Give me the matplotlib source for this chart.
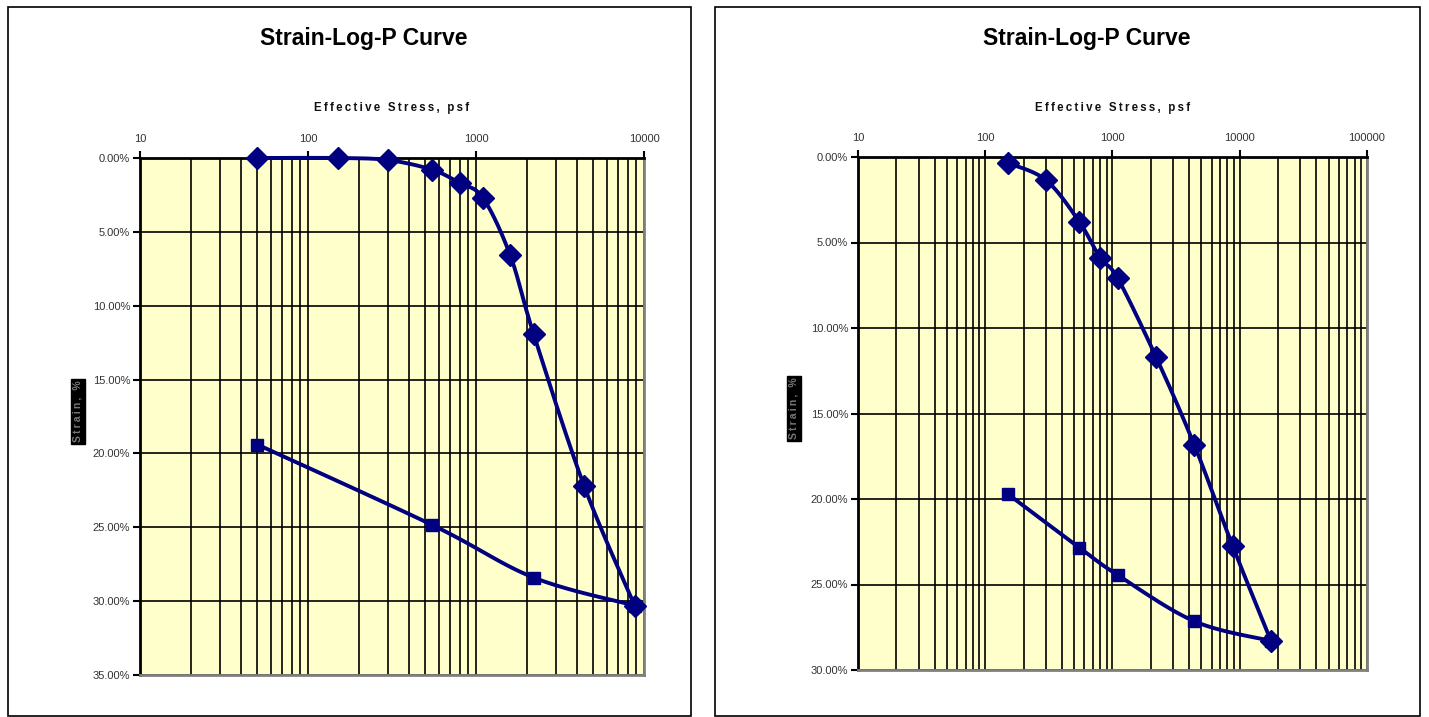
import numpy as np
import matplotlib
matplotlib.use('Agg')
import matplotlib.pyplot as plt
from matplotlib.ticker import FixedLocator, FuncFormatter, NullFormatter
from matplotlib.patches import Rectangle

plt.rcParams['font.family'] = ['Liberation Sans', 'DejaVu Sans']

title = "Strain-Log-P Curve"
xlabel = "Effective Stress, psf"
ylabel = "Strain, %"

# Left chart
left_load_p = [50, 150, 300, 550, 800, 1100, 1600, 2200, 4400, 8800]
left_load_strain = [0.0, 0.0, 0.14, 0.8, 1.7, 2.7, 6.6, 11.9, 22.2, 30.3]
left_unload_p = [8800, 2200, 550, 50]
left_unload_strain = [30.3, 28.4, 24.85, 19.4]
left_xticks = [10, 100, 1000, 10000]
left_yticks = [0, 5, 10, 15, 20, 25, 30, 35]

# Right chart
right_load_p = [150, 300, 550, 800, 1100, 2200, 4400, 8800, 17600]
right_load_strain = [0.35, 1.35, 3.8, 5.9, 7.1, 11.7, 16.85, 22.75, 28.3]
right_unload_p = [17600, 4400, 1100, 550, 150]
right_unload_strain = [28.3, 27.15, 24.45, 22.85, 19.7]
right_xticks = [10, 100, 1000, 10000, 100000]
right_yticks = [0, 5, 10, 15, 20, 25, 30]

W, H = 1429, 717
fig = plt.figure(figsize=(W / 100, H / 100), dpi=100)

NAVY = '#000080'
BG = '#FFFFCC'


def px_rect(x0, y0, x1, y1):
    return [x0 / W, 1 - y1 / H, (x1 - x0) / W, (y1 - y0) / H]


def spaced(s):
    return '\u2009'.join(s)


def smooth(ax, xs, ys, n=30):
    pts = ax.transData.transform(np.column_stack([xs, ys]))
    P = np.vstack([pts[0], pts, pts[-1]])
    out = []
    for i in range(1, len(P) - 2):
        p0, p1, p2, p3 = P[i - 1], P[i], P[i + 1], P[i + 2]
        c1 = p1 + (p2 - p0) / 6.0
        c2 = p2 - (p3 - p1) / 6.0
        t = np.linspace(0, 1, n)[:, None]
        seg = ((1 - t) ** 3) * p1 + 3 * ((1 - t) ** 2) * t * c1 + 3 * (1 - t) * t ** 2 * c2 + t ** 3 * p2
        out.append(seg if i == 1 else seg[1:])
    out = np.vstack(out)
    d = ax.transData.inverted().transform(out)
    return d[:, 0], d[:, 1]


def make_chart(rect, xlim, ylim, xticks, yticks, load_p, load_s, unl_p, unl_s,
               frame, title_x, ylab_x):
    ax = fig.add_axes(px_rect(*rect))
    ax.set_facecolor(BG)
    ax.set_xscale('log')
    ax.set_xlim(*xlim)
    ax.set_ylim(ylim[1], ylim[0])
    ax.xaxis.tick_top()
    ax.xaxis.set_major_locator(FixedLocator(xticks))
    minors = [m * 10 ** e for e in range(1, 6) for m in range(2, 10)
              if xlim[0] < m * 10 ** e < xlim[1]]
    ax.xaxis.set_minor_locator(FixedLocator(minors))
    ax.xaxis.set_minor_formatter(NullFormatter())
    ax.xaxis.set_major_formatter(FuncFormatter(lambda v, p: f"{int(round(v))}"))
    ax.yaxis.set_major_locator(FixedLocator(yticks))
    ax.yaxis.set_major_formatter(FuncFormatter(lambda v, p: f"{v:.2f}%"))
    ax.tick_params(axis='x', which='major', direction='out', length=5, width=1.5,
                   labelsize=8, labelcolor='#333333', pad=5)
    ax.tick_params(axis='x', which='minor', length=0)
    ax.tick_params(axis='y', which='major', direction='out', length=5, width=1.5,
                   labelsize=8, labelcolor='#333333', pad=2)
    ax.grid(True, which='both', axis='x', color='black', lw=1.2)
    ax.grid(True, which='major', axis='y', color='black', lw=1.2)
    ax.set_axisbelow(True)
    for s in ['top', 'left']:
        ax.spines[s].set_color('black')
        ax.spines[s].set_linewidth(2)
    for s in ['bottom', 'right']:
        ax.spines[s].set_color('#808080')
        ax.spines[s].set_linewidth(2)

    ux, uy = smooth(ax, unl_p, unl_s)
    ax.plot(ux, uy, color=NAVY, lw=2.8, zorder=3, solid_capstyle='round')
    ax.plot(unl_p, unl_s, ls='none', marker='s', ms=8, color=NAVY, zorder=4, clip_on=False)
    lx, ly = smooth(ax, load_p, load_s)
    ax.plot(lx, ly, color=NAVY, lw=2.8, zorder=5, solid_capstyle='round', clip_on=False)
    ax.plot(load_p, load_s, ls='none', marker='D', ms=11, color=NAVY, zorder=6, clip_on=False)

    cx = (rect[0] + rect[2]) / 2
    fig.text(cx / W, 1 - 108 / H, spaced(xlabel), ha='center', va='center', fontsize=8.3,
             fontweight='bold', color='#111111')
    fig.text(title_x / W, 1 - 38 / H, title, ha='center', va='center', fontsize=16.5,
             fontweight='bold', color='black')
    ycen = (rect[1] + rect[3]) / 2 - 2
    fig.text(ylab_x / W, 1 - (ycen - 3) / H, spaced(ylabel), rotation=90, ha='center',
             va='center', fontsize=7.5, color='#777777', fontweight='bold',
             bbox=dict(boxstyle='square,pad=0.15', fc='black', ec='black'))
    x0, y0, x1, y1 = frame
    fig.patches.append(Rectangle((x0 / W, 1 - y1 / H), (x1 - x0) / W, (y1 - y0) / H,
                                 transform=fig.transFigure, fill=False, ec='black', lw=1.2))
    return ax


make_chart((140, 158, 644, 675), (10, 10000), (0, 35), left_xticks, left_yticks,
           left_load_p, left_load_strain, left_unload_p, left_unload_strain,
           (8, 7, 691, 716), 364, 78)
make_chart((858, 157, 1367, 670), (10, 100000), (0, 30), right_xticks, right_yticks,
           right_load_p, right_load_strain, right_unload_p, right_unload_strain,
           (715, 7, 1420, 716), 1087, 794)

fig.savefig('out.png', dpi=100, facecolor='white')
